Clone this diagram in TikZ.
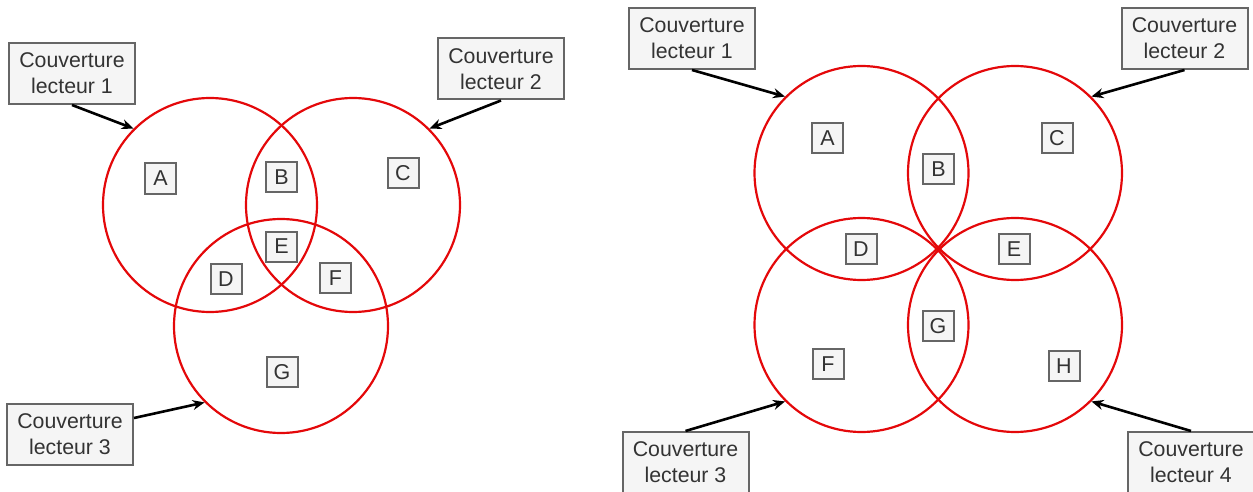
\documentclass[tikz,border=0pt]{standalone}
\usepackage{fontspec}
\setmainfont{Liberation Sans}
\usetikzlibrary{arrows.meta}
\definecolor{cred}{RGB}{228,8,10}
\definecolor{bfill}{RGB}{245,245,245}
\definecolor{bdraw}{RGB}{102,102,102}
\definecolor{btext}{RGB}{51,51,51}
\tikzset{
  zone/.style={circle, draw=cred, line width=2.2pt, minimum size=214pt, inner sep=0pt},
  letterbox/.style={draw=bdraw, fill=bfill, line width=2pt, text=btext, minimum width=31pt, minimum height=30pt, inner sep=0pt, font=\fontsize{21.5}{26}\selectfont},
  labelbox/.style={draw=bdraw, fill=bfill, line width=2pt, text=btext, minimum width=126pt, minimum height=61pt, inner sep=0pt, align=center, font=\fontsize{21.3}{26}\selectfont},
  pointer/.style={draw=black, line width=2.6pt, -{Stealth[length=12pt,width=10pt]}}
}
\begin{document}
\begin{tikzpicture}[x=1pt,y=-1pt]
\useasboundingbox (0,0) rectangle (1253,492);
% left diagram
\node[zone] (c1) at (210,205) {};
\node[zone] (c2) at (353,205) {};
\node[zone] (c3) at (281,326) {};
\node[letterbox] (lA) at (160.5,178.5) {A};
\node[letterbox] (lB) at (281.5,177) {B};
\node[letterbox] (lC) at (403,173) {C};
\node[letterbox] (lE) at (281.5,246.5) {E};
\node[letterbox] (lD) at (226,279) {D};
\node[letterbox] (lF) at (335.5,278) {F};
\node[letterbox] (lG) at (282,372) {G};
\node[labelbox] (k1) at (72,73.5) {Couverture\\lecteur 1};
\node[labelbox] (k2) at (501,69) {Couverture\\lecteur 2};
\node[labelbox] (k3) at (70,434) {Couverture\\lecteur 3};
\draw[pointer] (k1.south) -- (c1.135);
\draw[pointer] (k2.south) -- (c2.45);
\draw[pointer] ([yshift=16pt]k3.east) -- (c3.225);
% right diagram
\node[zone] (d1) at (861.5,173) {};
\node[zone] (d2) at (1015,173) {};
\node[zone] (d3) at (861.5,325) {};
\node[zone] (d4) at (1015,325) {};
\node[letterbox] (rA) at (827.5,138) {A};
\node[letterbox] (rB) at (938.5,169) {B};
\node[letterbox] (rC) at (1057,138) {C};
\node[letterbox] (rD) at (861,249) {D};
\node[letterbox] (rE) at (1014,249) {E};
\node[letterbox] (rG) at (938,326) {G};
\node[letterbox] (rF) at (828,364) {F};
\node[letterbox] (rH) at (1064,366) {H};
\node[labelbox] (m1) at (692,38.5) {Couverture\\lecteur 1};
\node[labelbox] (m2) at (1184.5,38.5) {Couverture\\lecteur 2};
\node[labelbox] (m3) at (685.5,462.5) {Couverture\\lecteur 3};
\node[labelbox] (m4) at (1191,462.5) {Couverture\\lecteur 4};
\draw[pointer] (m1.south) -- (d1.135);
\draw[pointer] (m2.south) -- (d2.45);
\draw[pointer] (m3.north) -- (d3.225);
\draw[pointer] (m4.north) -- (d4.315);
\end{tikzpicture}
\end{document}
